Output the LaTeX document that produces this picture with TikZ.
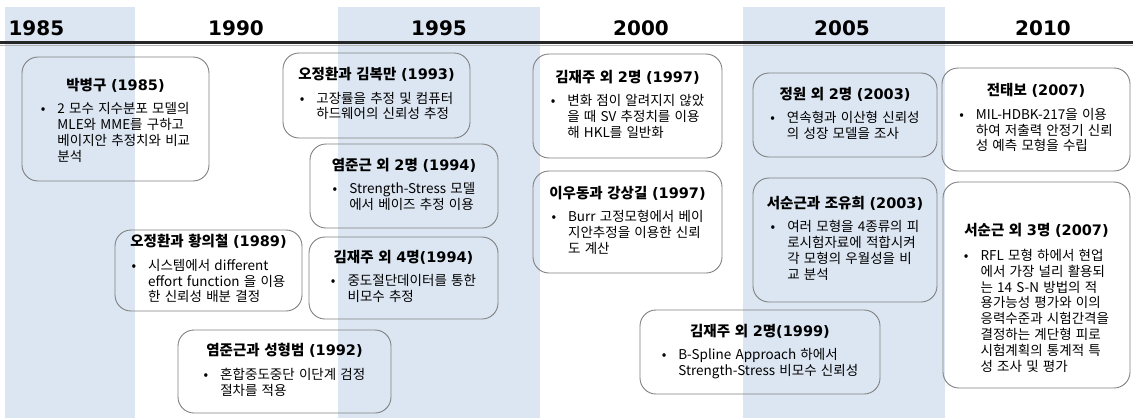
\documentclass[tikz,border=0pt]{standalone}
\usepackage{fontspec}
\setmainfont{Noto Sans CJK KR}[WordSpace=1.4]
\newfontfamily\yearfont{DejaVu Sans}
\definecolor{band}{RGB}{220,230,242}
\definecolor{boxline}{RGB}{128,128,128}
\newcommand\yr[1]{{\yearfont\bfseries #1}}
\newcommand\bul[1]{•\hspace{12pt}\begin{tabular}[t]{@{}l@{}}#1\end{tabular}}
\newcommand\ttl{\bfseries\fontsize{14.5}{16}\selectfont}
\tikzset{
  ev/.style={draw=boxline,line width=0.9pt,rounded corners=16pt,align=center,inner sep=0pt,
    font=\fontsize{13.5}{15.5}\selectfont},
  yeartext/.style={font=\yearfont\bfseries\fontsize{20}{22}\selectfont}
}

\begin{document}
\begin{tikzpicture}[x=1pt,y=-1pt]
        \useasboundingbox (0,0) rectangle (1133,418);

        \foreach \a/\b in {5/135,338/540,743/945} \fill[band] (\a,7) rectangle (\b,418);
        \node[yeartext,anchor=west] (y1985) at (5,28) {1985};
        \foreach \n/\x in {1990/236,1995/439,2000/641,2005/842,2010/1043} \node[yeartext] (y\n) at (\x,28) {\n};
        \draw[line width=2.4pt,black!85] (0,42.5) -- (1133,42.5);
        \draw[line width=1pt,black!30] (0,45) -- (1133,45);

        \node[ev,minimum width=187,minimum height=124] (bak85) at (115.5,119)
          {\ttl\rule{0pt}{18pt}박병구 \yr{(1985)}\\[8pt]
           \bul{2 모수 지수분포 모델의\\MLE와 MME를 구하고\\베이지안 추정치와 비교\\분석}};
        \node[ev,minimum width=187,minimum height=81] (oh89) at (208.5,270.5)
          {\ttl 오정환과 황의철 \yr{(1989)}\\[8pt]
           \bul{시스템에서 different\\effort function 을 이용\\한 신뢰성 배분 결정}};
        \node[ev,minimum width=213,minimum height=83] (yeom92) at (284.5,371.5)
          {\ttl 염준근과 성형범 \yr{(1992)}\\[8pt]
           \bul{혼합중도중단 이단계 검정\\절차를 적용}};
        \node[ev,minimum width=187,minimum height=85] (oh93) at (376.5,95.5)
          {\ttl 오정환과 김복만 \yr{(1993)}\\[8pt]
           \bul{고장률을 추정 및 컴퓨터\\하드웨어의 신뢰성 추정}};
        \node[ev,minimum width=188,minimum height=84] (yeom94) at (404,186)
          {\ttl 염준근 외 \yr{2}명 \yr{(1994)}\\[8pt]
           \bul{Strength-Stress 모델\\에서 베이즈 추정 이용}};
        \node[ev,minimum width=189,minimum height=82] (kim94) at (403.5,278)
          {\ttl 김재주 외 \yr{4}명\yr{(1994)}\\[8pt]
           \bul{중도절단데이터를 통한\\비모수 추정}};
        \node[ev,minimum width=189,minimum height=104] (kim97) at (627.5,106)
          {\ttl 김재주 외 \yr{2}명 \yr{(1997)}\\[8pt]
           \bul{변화 점이 알려지지 않았\\을 때 SV 추정치를 이용\\해 HKL를 일반화}};
        \node[ev,minimum width=189,minimum height=102] (lee97) at (627.5,222)
          {\ttl 이우동과 강상길 \yr{(1997)}\\[8pt]
           \bul{Burr 고정모형에서 베이\\지안추정을 이용한 신뢰\\도 계산}};
        \node[ev,minimum width=240,minimum height=84] (kim99) at (760,352)
          {\ttl 김재주 외 \yr{2}명\yr{(1999)}\\[8pt]
           \bul{B-Spline Approach 하에서\\Strength-Stress 비모수 신뢰성}};
        \node[ev,minimum width=184,minimum height=84] (jung03) at (845,115)
          {\ttl 정원 외 \yr{2}명 \yr{(2003)}\\[8pt]
           \bul{연속형과 이산형 신뢰성\\의 성장 모델을 조사}};
        \node[ev,minimum width=184,minimum height=124] (seo03) at (845,240)
          {\ttl 서순근과 조유희 \yr{(2003)}\\[8pt]
           \bul{여러 모형을 4종류의 피\\로시험자료에 적합시켜\\각 모형의 우월성을 비\\교 분석}};
        \node[ev,minimum width=188,minimum height=103] (jeon07) at (1036,119.5)
          {\ttl 전태보 \yr{(2007)}\\[8pt]
           \bul{MIL-HDBK-217을 이용\\하여 저출력 안정기 신뢰\\성 예측 모형을 수립}};
        \node[ev,minimum width=187,minimum height=206] (seo07) at (1036.5,285)
          {\ttl\rule{0pt}{42pt}서순근 외 \yr{3}명 \yr{(2007)}\\[9pt]
           \bul{RFL 모형 하에서 현업\\에서 가장 널리 활용되\\는 14 S-N 방법의 적\\용가능성 평가와 이의\\응력수준과 시험간격을\\결정하는 계단형 피로\\시험계획의 통계적 특\\성 조사 및 평가}};

      \end{tikzpicture}
\end{document}
